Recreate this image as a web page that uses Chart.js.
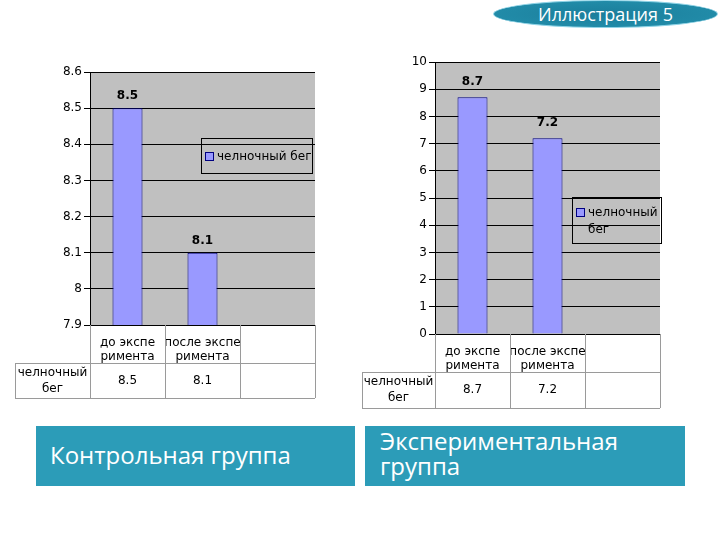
<!DOCTYPE html>
<html>
<head>
<meta charset="utf-8">
<script src="https://cdn.jsdelivr.net/npm/chart.js@4.4.0/dist/chart.umd.min.js"></script>
<style>
body { margin:0; background:#fff; width:720px; height:540px; position:relative; overflow:hidden; }
#chartControl { position:absolute; left:0; top:50px; }
#chartExperiment { position:absolute; left:350px; top:45px; }
.box { position:absolute; background:#2c9cb8; color:#fff; font-family:"Open Sans",sans-serif; }
#boxControl { left:36px; top:426px; width:319px; height:60px; font-size:24px; }
#boxControl span { position:absolute; left:14px; top:12px; }
#boxExperiment { left:365px; top:426px; width:320px; height:60px; font-size:24px; line-height:25px; }
#boxExperiment span { position:absolute; left:15px; top:2px; }
#badge { position:absolute; left:493px; top:0px; width:223px; height:26px; border-radius:50%;
  background:radial-gradient(ellipse at center, #1b7e9b 0%, #218ba8 70%, #5cc0da 100%);
  border:1px solid #8fd3e6; color:#fff; font-family:"Open Sans",sans-serif; font-size:18px;
  text-align:center; line-height:26px; }
</style>
</head>
<body>
<div id="badge">Иллюстрация 5</div>
<canvas id="chartControl" width="340" height="360"></canvas>
<canvas id="chartExperiment" width="340" height="375"></canvas>
<div class="box" id="boxControl"><span>Контрольная группа</span></div>
<div class="box" id="boxExperiment"><span>Экспериментальная<br>группа</span></div>
<script>
var categories = [['до экспе', 'римента'], ['после экспе', 'римента'], ''];
var seriesName = 'челночный бег';
var rowLabel = ['челночный', 'бег'];
var controlValues = [8.5, 8.1, null];
var experimentValues = [8.7, 7.2, null];
var controlAxis = [7.9, 8.6, 0.1];
var experimentAxis = [0, 10, 1];

Chart.defaults.font.family = 'DejaVu Sans';
Chart.defaults.font.size = 12;
Chart.defaults.color = '#000';

var tablePlugin = {
    id: 'tablePlugin',
    beforeDraw: function (chart) {
        var ca = chart.chartArea, ctx = chart.ctx;
        ctx.save();
        ctx.fillStyle = '#c0c0c0';
        ctx.fillRect(ca.left, ca.top, ca.right - ca.left, ca.bottom - ca.top);
        ctx.restore();
    },
    afterDatasetsDraw: function (chart) {
        var ctx = chart.ctx;
        var meta = chart.getDatasetMeta(0);
        var data = chart.data.datasets[0].data;
        var o = chart.options.plugins.tablePlugin;
        ctx.save();
        ctx.font = 'bold 12px "DejaVu Sans"';
        ctx.fillStyle = '#000';
        ctx.textAlign = 'center';
        ctx.textBaseline = 'bottom';
        meta.data.forEach(function (bar, i) {
            if (data[i] == null) return;
            ctx.fillText(String(data[i]), bar.x, bar.y - o.labelGap);
        });
        ctx.restore();
    },
    afterDraw: function (chart) {
        var o = chart.options.plugins.tablePlugin;
        var ca = chart.chartArea, ctx = chart.ctx, x = chart.scales.x;
        var n = chart.data.labels.length;
        var colW = (ca.right - ca.left) / n;
        var row1 = ca.bottom + o.headH;
        var row2 = row1 + o.rowH;
        ctx.save();
        ctx.strokeStyle = '#9a9a9a';
        ctx.lineWidth = 1;
        ctx.beginPath();
        for (var i = 0; i <= n; i++) {
            var px = Math.round(ca.left + i * colW) + 0.5;
            ctx.moveTo(px, ca.bottom);
            ctx.lineTo(px, row2);
        }
        ctx.moveTo(o.labelLeft, row1 + 0.5);
        ctx.lineTo(ca.right, row1 + 0.5);
        ctx.moveTo(o.labelLeft, row2 + 0.5);
        ctx.lineTo(ca.right, row2 + 0.5);
        ctx.moveTo(o.labelLeft + 0.5, row1);
        ctx.lineTo(o.labelLeft + 0.5, row2);
        ctx.stroke();

        ctx.fillStyle = '#000';
        ctx.textAlign = 'center';
        ctx.textBaseline = 'middle';
        ctx.font = '12px "DejaVu Sans"';
        var lx = (o.labelLeft + ca.left) / 2;
        var mid = (row1 + row2) / 2;
        ctx.fillText(rowLabel[0], lx, mid - 8);
        ctx.fillText(rowLabel[1], lx, mid + 8);
        var data = chart.data.datasets[0].data;
        for (var j = 0; j < n; j++) {
            if (data[j] == null) continue;
            ctx.fillText(String(data[j]), x.getPixelForValue(j), mid);
        }

        // legend box
        var lg = o.legend;
        var bx = ca.left + lg.x, by = ca.top + lg.y;
        ctx.strokeStyle = '#000';
        ctx.strokeRect(bx + 0.5, by + 0.5, lg.w, lg.h);
        ctx.fillStyle = '#9999ff';
        ctx.fillRect(bx + 4, by + lg.my, 9, 9);
        ctx.strokeStyle = '#000080';
        ctx.strokeRect(bx + 4.5, by + lg.my + 0.5, 8, 8);
        ctx.fillStyle = '#000';
        ctx.textAlign = 'left';
        ctx.textBaseline = 'middle';
        lg.lines.forEach(function (t, k) {
            ctx.fillText(t, bx + 16, by + lg.my + 5 + k * 17);
        });
        ctx.restore();
    }
};

function makeChart(id, values, axis, pad, tableOpts) {
    var ctx = document.getElementById(id).getContext('2d');
    return new Chart(ctx, {
        type: 'bar',
        data: {
            labels: categories,
            datasets: [{
                label: seriesName,
                data: values,
                backgroundColor: '#9999ff',
                borderColor: '#000080',
                borderWidth: 1,
                barPercentage: 0.4,
                categoryPercentage: 1
            }]
        },
        options: {
            responsive: false,
            animation: false,
            layout: { padding: pad },
            plugins: {
                legend: { display: false },
                tooltip: { enabled: false },
                tablePlugin: tableOpts
            },
            scales: {
                x: {
                    grid: { display: false },
                    border: { color: '#000' },
                    ticks: { autoSkip: false, maxRotation: 0, padding: 3, font: { size: 12, lineHeight: 1.15 } },
                    afterFit: function (s) { s.height = tableOpts.headH; }
                },
                y: {
                    min: axis[0],
                    max: axis[1],
                    grid: { color: '#000', tickLength: 6 },
                    border: { color: '#000' },
                    ticks: {
                        stepSize: axis[2],
                        padding: 2,
                        font: { size: 12 },
                        callback: function (v) { return String(+v.toFixed(1)); }
                    },
                    afterFit: function (s) { s.width = 40; }
                }
            }
        },
        plugins: [tablePlugin]
    });
}

window.onload = function () {
    makeChart('chartControl', controlValues, controlAxis,
        { left: 50, right: 25, top: 22, bottom: 47 },
        { headH: 38, rowH: 35, labelLeft: 15, labelGap: 6,
          legend: { x: 111, y: 66, w: 111, h: 35, my: 14, lines: [seriesName] } });
    makeChart('chartExperiment', experimentValues, experimentAxis,
        { left: 45, right: 30, top: 17, bottom: 48 },
        { headH: 38, rowH: 36, labelLeft: 12, labelGap: 9,
          legend: { x: 137, y: 135, w: 89, h: 46, my: 11, lines: ['челночный', 'бег'] } });
};
</script>
</body>
</html>
